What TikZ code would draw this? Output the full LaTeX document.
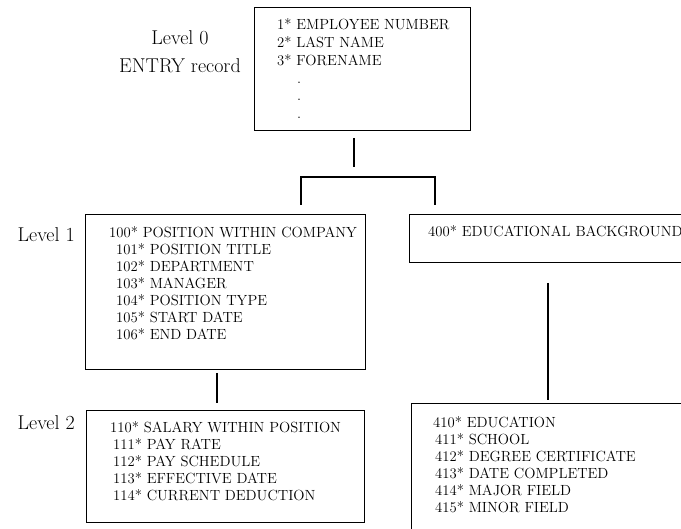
\documentclass[tikz,border=0pt]{standalone}
\begin{document}
\begin{tikzpicture}[x=1pt,y=-1pt,
  box/.style={draw, line width=1.2pt, inner sep=0pt, anchor=north west},
  rec/.style={inner sep=0pt, anchor=base west, align=left, font=\fontsize{14.7}{17.1}\selectfont},
  lvl/.style={inner sep=0pt, font=\fontsize{20}{27}\selectfont},
  conn/.style={line width=1.2pt},
  connb/.style={line width=1.8pt}]
\useasboundingbox (0,0) rectangle (681,529);
\clip (0,0) rectangle (681,529);
% boxes
\node[box, minimum width=216pt, minimum height=123pt] (top) at (254,7) {};
\node[box, minimum width=280pt, minimum height=155pt] (pos) at (85,214) {};
\node[box, minimum width=300pt, minimum height=48pt] (edu) at (409,214) {};
\node[box, minimum width=278pt, minimum height=112pt] (sal) at (86,410) {};
\node[box, minimum width=300pt, minimum height=140pt] (educ) at (411,403) {};
% labels
\node[lvl, anchor=base] (l0) at (180,45) {Level 0};
\node[lvl, anchor=base] (l0b) at (180,73) {ENTRY record};
\node[lvl, anchor=base east] (l1) at (75,242) {Level 1};
\node[lvl, anchor=base east] (l2) at (75,430) {Level 2};
% texts (anchored at the baseline of the last line)
\node[rec, font=\fontsize{14.7}{18}\selectfont] (ttop) at (277,66) {1* EMPLOYEE NUMBER\\2* LAST NAME\\3* FORENAME};
\node[rec, anchor=base] (d1) at (299,84) {.};
\node[rec, anchor=base] (d2) at (299,101) {.};
\node[rec, anchor=base] (d3) at (299,119) {.};
\node[rec] (tpos) at (109,340) {100* POSITION WITHIN COMPANY\\
\hspace*{7pt}101* POSITION TITLE\\
\hspace*{7pt}102* DEPARTMENT\\
\hspace*{7pt}103* MANAGER\\
\hspace*{7pt}104* POSITION TYPE\\
\hspace*{7pt}105* START DATE\\
\hspace*{7pt}106* END DATE};
\node[rec] (tedu) at (428,237) {400* EDUCATIONAL BACKGROUND};
\node[rec] (tsal) at (110,501) {110* SALARY WITHIN POSITION\\
\hspace*{3pt}111* PAY RATE\\
\hspace*{3pt}112* PAY SCHEDULE\\
\hspace*{3pt}113* EFFECTIVE DATE\\
\hspace*{3pt}114* CURRENT DEDUCTION};
\node[rec] (teduc) at (433,513) {410* EDUCATION\\
\hspace*{2pt}411* SCHOOL\\
\hspace*{2pt}412* DEGREE CERTIFICATE\\
\hspace*{2pt}413* DATE COMPLETED\\
\hspace*{2pt}414* MAJOR FIELD\\
\hspace*{2pt}415* MINOR FIELD};
% connectors
\coordinate (a1) at (354,138);
\coordinate (a2) at (354,167);
\coordinate (b1) at (301,205);
\coordinate (b2) at (301,177);
\coordinate (b3) at (435,177);
\coordinate (b4) at (435,205);
\coordinate (c1) at (217,373);
\coordinate (c2) at (217,403);
\coordinate (e1) at (548,283);
\coordinate (e2) at (548,400);
\draw[conn] (a1) -- (a2);
\draw[conn] (b1) -- (b2) -- (b3) -- (b4);
\draw[conn] (c1) -- (c2);
\draw[connb] (e1) -- (e2);
\end{tikzpicture}
\end{document}
